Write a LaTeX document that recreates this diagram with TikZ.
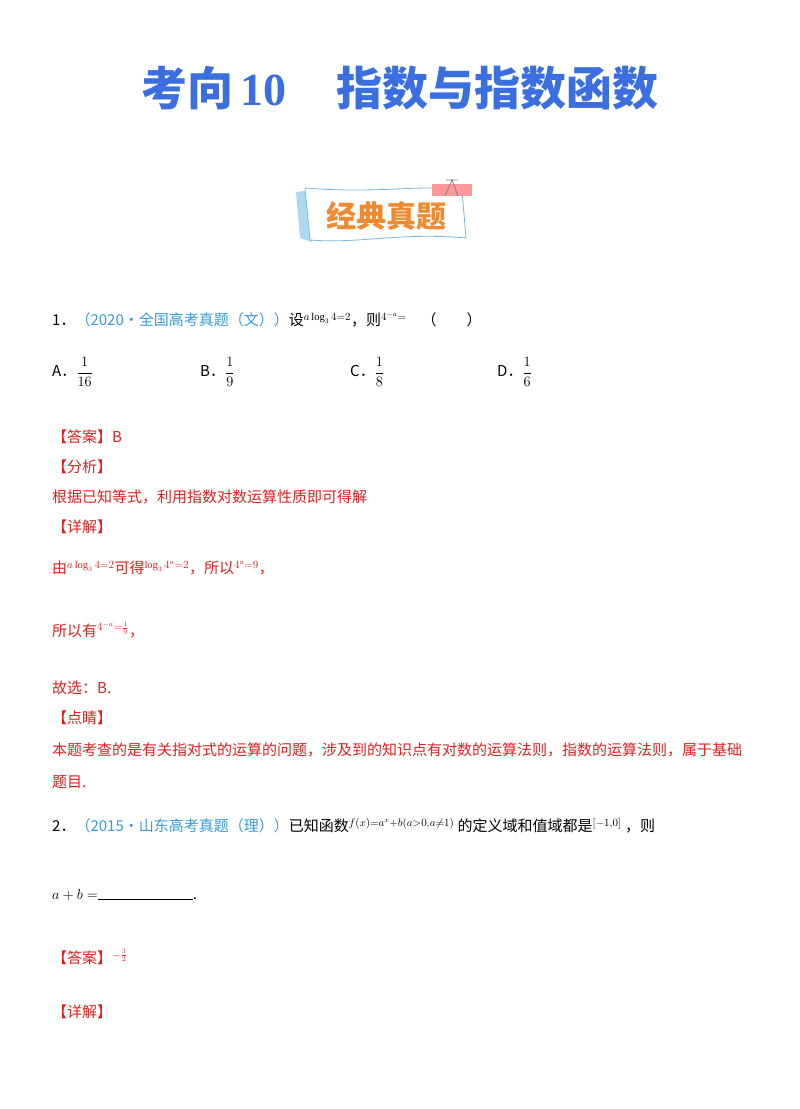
\documentclass[tikz,border=0pt]{standalone}
\usepackage{amsmath}
\usepackage{fontspec}
\setmainfont{Liberation Serif}
\newfontfamily\cjk{Noto Sans CJK SC}
\definecolor{tblue}{HTML}{3B6FE0}
\definecolor{cblue}{HTML}{3A9AD9}
\definecolor{ared}{HTML}{E02020}
\definecolor{bor}{HTML}{F08A30}
\begin{document}
\begin{tikzpicture}[x=1pt,y=-1pt,
 t/.style={anchor=west,inner sep=0pt,font=\fontsize{15}{18}\selectfont\cjk},
 r/.style={t,text=ared},
 b/.style={t,text=cblue}]
\useasboundingbox (0,0) rectangle (800,1109);
\fill[white] (0,0) rectangle (800,1109);
\node[anchor=center,text=tblue,font=\fontsize{46}{50}\selectfont\bfseries] (title) at (400,88) {{\cjk\bfseries 考向}\,10\hspace{50pt}{\cjk\bfseries 指数与指数函数}};
% banner
\fill[cblue!40] (296,192) -- (312,190) -- (312,242) -- (300,238) -- cycle;
\draw[cblue!70,line width=0.8pt,fill=white] (305,188) .. controls (380,194) and (420,184) .. (462,190) -- (466,238) .. controls (400,232) and (360,244) .. (310,240) -- cycle;
\fill[pink!80!red] (432,184) rectangle (472,196);
\draw[gray,line width=0.8pt] (445,196) -- (452,180) -- (458,196) (446,180) -- (458,180);
\node[text=bor,font=\fontsize{30}{32}\selectfont\cjk\bfseries] (ban) at (386,216) {经典真题};
% Q1
\node[t] (q1) at (52,320) {1．{\color{cblue}（2020•全国高考真题（文））}设$^{a\log_3 4=2}$，则$^{4^{-a}=}$\quad（\qquad）};
\node[t] (oa) at (52,372) {A．$\dfrac{1}{16}$};
\node[t] (ob) at (200,372) {B．$\dfrac{1}{9}$};
\node[t] (oc) at (350,372) {C．$\dfrac{1}{8}$};
\node[t] (od) at (497,372) {D．$\dfrac{1}{6}$};
\node[r] (ans) at (52,437) {【答案】B};
\node[r] (fx) at (52,467) {【分析】};
\node[r] (fxt) at (52,497) {根据已知等式，利用指数对数运算性质即可得解};
\node[r] (xj) at (52,527) {【详解】};
\node[r] (l1) at (52,568) {由$^{a\log_3 4=2}$可得$^{\log_3 4^a=2}$，所以$^{4^a=9}$，};
\node[r] (l2) at (52,630) {所以有$^{4^{-a}=\frac{1}{9}}$，};
\node[r] (gx) at (52,688) {故选：B.};
\node[r] (dj) at (52,718) {【点睛】};
\node[r] (djt) at (52,750) {本题考查的是有关指对式的运算的问题，涉及到的知识点有对数的运算法则，指数的运算法则，属于基础};
\node[r] (tm) at (52,782) {题目.};
% Q2
\node[t] (q2) at (52,826) {2．{\color{cblue}（2015•山东高考真题（理））}已知函数$^{f(x)=a^x+b(a>0,a\neq1)}$\ 的定义域和值域都是$^{\left[-1,0\right]}$\ ，则};
\node[t] (ab) at (52,895) {$a+b=$\rule{95pt}{0.4pt}.};
\node[r] (ans2) at (52,957) {【答案】$^{-\frac{3}{2}}$};
\node[r] (xj2) at (52,1012) {【详解】};
\end{tikzpicture}
\end{document}
